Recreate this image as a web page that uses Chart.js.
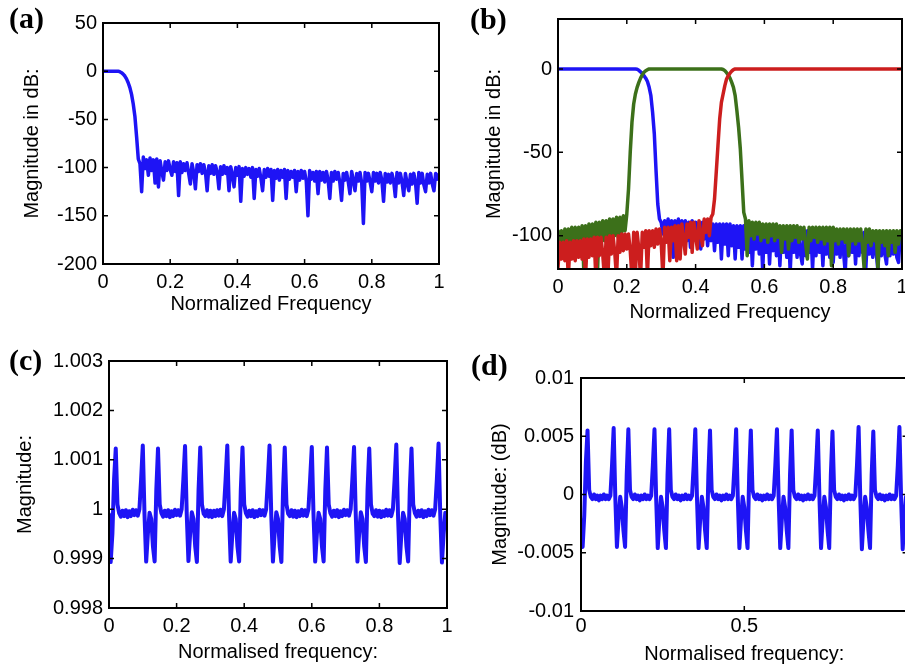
<!DOCTYPE html>
<html lang="en">
<head>
<meta charset="utf-8">
<title>Filter bank magnitude responses</title>
<script src="https://cdn.jsdelivr.net/npm/chart.js@4.4.1/dist/chart.umd.min.js"></script>
<style>
  html, body { margin: 0; padding: 0; background: #fff; overflow: hidden; }
  #page { position: relative; width: 905px; height: 666px; overflow: hidden; background: #fff; }
  #page canvas { position: absolute; }
  .tag { position: absolute; font: bold 30px/30px "Liberation Serif", "Times New Roman", serif; color: #000; white-space: nowrap; }
</style>
</head>
<body>
<div id="page">
  <canvas id="panelA" width="452" height="330" style="left:0px;top:0px"></canvas>
  <canvas id="panelB" width="460" height="330" style="left:455px;top:0px"></canvas>
  <canvas id="panelC" width="460" height="331" style="left:0px;top:335px"></canvas>
  <canvas id="panelD" width="460" height="321" style="left:470px;top:345px"></canvas>
  <div class="tag" style="left:9px;top:3px">(a)</div>
  <div class="tag" style="left:470px;top:4px">(b)</div>
  <div class="tag" style="left:9px;top:345px">(c)</div>
  <div class="tag" style="left:471px;top:350px">(d)</div>
</div>
<script>
// Normalised frequency grid shared by every response
const freq = [
  0,0.005,0.01,0.015,0.02,0.025,0.03,0.035,0.04,0.045,
  0.05,0.055,0.06,0.065,0.07,0.075,0.08,0.085,0.09,0.095,
  0.1,0.105,0.11,0.115,0.12,0.125,0.13,0.135,0.14,0.145,
  0.15,0.155,0.16,0.165,0.17,0.175,0.18,0.185,0.19,0.195,
  0.2,0.205,0.21,0.215,0.22,0.225,0.23,0.235,0.24,0.245,
  0.25,0.255,0.26,0.265,0.27,0.275,0.28,0.285,0.29,0.295,
  0.3,0.305,0.31,0.315,0.32,0.325,0.33,0.335,0.34,0.345,
  0.35,0.355,0.36,0.365,0.37,0.375,0.38,0.385,0.39,0.395,
  0.4,0.405,0.41,0.415,0.42,0.425,0.43,0.435,0.44,0.445,
  0.45,0.455,0.46,0.465,0.47,0.475,0.48,0.485,0.49,0.495,
  0.5,0.505,0.51,0.515,0.52,0.525,0.53,0.535,0.54,0.545,
  0.55,0.555,0.56,0.565,0.57,0.575,0.58,0.585,0.59,0.595,
  0.6,0.605,0.61,0.615,0.62,0.625,0.63,0.635,0.64,0.645,
  0.65,0.655,0.66,0.665,0.67,0.675,0.68,0.685,0.69,0.695,
  0.7,0.705,0.71,0.715,0.72,0.725,0.73,0.735,0.74,0.745,
  0.75,0.755,0.76,0.765,0.77,0.775,0.78,0.785,0.79,0.795,
  0.8,0.805,0.81,0.815,0.82,0.825,0.83,0.835,0.84,0.845,
  0.85,0.855,0.86,0.865,0.87,0.875,0.88,0.885,0.89,0.895,
  0.9,0.905,0.91,0.915,0.92,0.925,0.93,0.935,0.94,0.945,
  0.95,0.955,0.96,0.965,0.97,0.975,0.98,0.985,0.99,0.995,
  1
];

// (a) prototype lowpass filter, magnitude in dB
const magA = [
  0,0,0,0,0,0,0,0,0,0,
  -0.5,-1.5,-3,-5,-8,-12,-17,-24,-34,-47,
  -68,-91,-96,-125,-89,-101,-92,-108,-90,-103,
  -92,-116,-91,-120,-93,-104,-113,-94,-103,-93,
  -102,-108,-94,-104,-95,-129,-94,-105,-96,-103,
  -95,-106,-117,-96,-105,-122,-97,-104,-96,-106,
  -97,-105,-124,-98,-106,-97,-107,-98,-105,-122,
  -99,-107,-98,-106,-100,-124,-99,-107,-120,-100,
  -108,-99,-135,-101,-109,-100,-107,-101,-110,-100,
  -132,-102,-109,-101,-111,-124,-102,-110,-101,-109,
  -102,-134,-103,-111,-102,-113,-103,-110,-102,-132,
  -103,-112,-104,-110,-103,-125,-104,-113,-103,-111,
  -104,-114,-150,-103,-112,-105,-114,-104,-127,-104,
  -113,-105,-115,-104,-113,-132,-105,-114,-104,-112,
  -105,-116,-134,-106,-113,-105,-115,-127,-104,-113,
  -124,-106,-114,-105,-116,-158,-105,-114,-106,-115,
  -125,-105,-114,-106,-116,-105,-113,-135,-106,-115,
  -107,-116,-106,-114,-130,-105,-116,-106,-115,-129,
  -106,-116,-124,-107,-117,-106,-115,-137,-105,-116,
  -106,-118,-125,-107,-116,-106,-117,-124,-106,-112,
  -107
];

// (b) three-band filter bank: lowpass, bandpass, highpass (dB)
const magBLow = [
  0,0,0,0,0,0,0,0,0,0,
  0,0,0,0,0,0,0,0,0,0,
  0,0,0,0,0,0,0,0,0,0,
  0,0,0,0,0,0,0,0,0,0,
  0,0,0,0,0,0,-0.2,-0.8,-1.7,-2.6,
  -4,-5.5,-7.5,-11,-16,-26,-39,-61,-81,-90,
  -92,-99,-91,-101,-90,-104,-91,-113,-91,-102,
  -90,-110,-91,-100,-91,-103,-92,-107,-91,-101,
  -92,-104,-92,-108,-92,-102,-92,-106,-93,-103,
  -93,-109,-93,-104,-93,-114,-93,-105,-93,-112,
  -93,-106,-94,-114,-94,-107,-94,-114,-94,-108,
  -94,-110,-95,-118,-95,-108,-95,-111,-95,-121,
  -95,-110,-96,-117,-96,-109,-96,-112,-96,-118,
  -96,-110,-96,-113,-96,-122,-97,-110,-97,-113,
  -97,-111,-117,-97,-112,-97,-110,-97,-120,-97,
  -112,-97,-110,-97,-118,-97,-111,-98,-113,-98,
  -116,-98,-111,-98,-113,-98,-110,-122,-98,-112,
  -98,-110,-98,-117,-98,-112,-98,-110,-98,-119,
  -98,-111,-98,-113,-99,-110,-121,-99,-112,-99,
  -111,-117,-99,-112,-99,-111,-99,-113,-116,-99,
  -104
];
const magBBand = [
  -97,-107,-97,-106,-96,-108,-96,-105,-95,-107,
  -95,-104,-95,-106,-94,-121,-94,-104,-93,-105,
  -93,-103,-92,-121,-92,-102,-91,-103,-91,-101,
  -90,-102,-90,-100,-89,-101,-89,-99,-88,-97,
  -87,-72,-50,-32,-21,-15,-11,-8,-5.5,-3.5,
  -2,-1,-0.4,0,0,0,0,0,0,0,
  0,0,0,0,0,0,0,0,0,0,
  0,0,0,0,0,0,0,0,0,0,
  0,0,0,0,0,0,0,0,0,0,
  0,0,0,0,0,0,-0.3,-1,-2.2,-3.6,
  -5.5,-8,-11,-16,-25,-35,-48,-67,-86,-90,
  -112,-91,-100,-92,-102,-92,-99,-92,-103,-93,
  -101,-93,-104,-93,-100,-93,-103,-93,-101,-94,
  -110,-94,-102,-94,-108,-94,-103,-94,-101,-94,
  -104,-95,-102,-95,-105,-114,-95,-103,-95,-101,
  -95,-104,-95,-102,-95,-105,-95,-103,-95,-118,
  -95,-103,-96,-105,-96,-102,-96,-104,-96,-112,
  -96,-103,-96,-105,-96,-103,-96,-106,-120,-96,
  -104,-96,-106,-97,-103,-97,-120,-97,-104,-97,
  -106,-97,-112,-97,-104,-97,-110,-97,-105,-97,
  -101
];
const magBHigh = [
  -119,-104,-114,-104,-115,-103,-125,-104,-114,-103,
  -115,-103,-113,-103,-114,-102,-125,-102,-113,-102,
  -112,-101,-125,-101,-112,-101,-111,-125,-101,-124,
  -100,-111,-100,-110,-125,-100,-110,-99,-109,-99,
  -108,-99,-109,-125,-98,-123,-98,-108,-125,-98,
  -107,-97,-124,-97,-106,-97,-107,-96,-105,-96,
  -104,-125,-95,-104,-95,-115,-95,-103,-94,-115,
  -94,-114,-93,-102,-111,-93,-101,-92,-110,-92,
  -100,-108,-91,-99,-106,-90,-98,-90,-100,-89,
  -87,-78,-62,-46,-30,-20,-15,-10,-6,-4,
  -2.5,-1.3,-0.4,0,0,0,0,0,0,0,
  0,0,0,0,0,0,0,0,0,0,
  0,0,0,0,0,0,0,0,0,0,
  0,0,0,0,0,0,0,0,0,0,
  0,0,0,0,0,0,0,0,0,0,
  0,0,0,0,0,0,0,0,0,0,
  0,0,0,0,0,0,0,0,0,0,
  0,0,0,0,0,0,0,0,0,0,
  0,0,0,0,0,0,0,0,0,0,
  0,0,0,0,0,0,0,0,0,0,
  0
];

// (c) overall reconstruction magnitude (linear)
const magC = [
  0.9999,0.99893,0.9995,1.0006,1.00123,1.0001,0.99992,0.99985,0.99997,0.99986,
  0.99998,0.99984,0.99996,0.99986,0.99999,0.99988,0.99998,0.99987,1.0000,1.0006,
  1.00129,0.9999,0.99894,0.9995,0.99993,0.9998,0.99925,0.99894,1.0004,1.00123,
  1.0001,0.99992,0.99985,0.99997,0.99986,0.99998,0.99984,0.99996,0.99986,0.99999,
  0.99988,0.99998,0.99987,1.0000,1.0006,1.00128,0.9999,0.99895,0.9995,0.99994,
  0.9998,0.99925,0.99893,1.0004,1.00125,1.0001,0.99991,0.99986,0.99998,0.99985,
  0.99997,0.99984,0.99997,0.99986,0.99998,0.99987,0.99999,0.99986,1.0000,1.0006,
  1.00129,0.9999,0.99894,0.9995,0.99993,0.9998,0.99925,0.99894,1.0004,1.00125,
  1.0001,0.99992,0.99985,0.99997,0.99986,0.99998,0.99984,0.99996,0.99986,0.99999,
  0.99988,0.99998,0.99987,1.0000,1.0006,1.00129,0.9999,0.99894,0.9995,0.99994,
  0.9998,0.99925,0.99893,1.0004,1.00125,1.0001,0.99991,0.99986,0.99998,0.99985,
  0.99997,0.99984,0.99996,0.99986,0.99999,0.99987,0.99998,0.99986,1.0000,1.0006,
  1.00126,0.9999,0.99894,0.9995,0.99993,0.9998,0.99925,0.99894,1.0004,1.00125,
  1.0001,0.99992,0.99985,0.99997,0.99986,0.99998,0.99984,0.99996,0.99986,0.99999,
  0.99988,0.99998,0.99987,1.0000,1.0006,1.00126,0.9999,0.99894,0.9995,0.99994,
  0.9998,0.99925,0.99893,1.0004,1.00123,1.0001,0.99991,0.99986,0.99998,0.99985,
  0.99997,0.99984,0.99996,0.99986,0.99999,0.99987,0.99998,0.99986,1.0000,1.0006,
  1.00131,0.9999,0.99891,0.9995,0.99993,0.9998,0.99925,0.99894,1.0004,1.00123,
  1.0001,0.99992,0.99985,0.99997,0.99986,0.99998,0.99984,0.99996,0.99986,0.99999,
  0.99988,0.99998,0.99987,1.0000,1.0006,1.00133,0.9999,0.99892,0.9995,0.99993,
  0.9998
];

// (d) overall reconstruction magnitude (dB)
const magD = [
  -0.0022,-0.0045,-0.0018,0.0028,0.0055,0.0004,-0.0002,-0.0004,0.0000,-0.0004,
  -0.0001,-0.0005,-0.0001,-0.0004,0.0000,-0.0004,-0.0001,-0.0004,-0.0001,0.0025,
  0.0057,-0.0002,-0.0045,-0.0021,-0.0002,-0.0011,-0.0031,-0.0045,0.0017,0.0056,
  0.0004,-0.0002,-0.0004,0.0000,-0.0004,-0.0001,-0.0005,-0.0001,-0.0004,0.0000,
  -0.0004,-0.0001,-0.0004,-0.0001,0.0025,0.0056,-0.0002,-0.0046,-0.0021,-0.0002,
  -0.0011,-0.0031,-0.0046,0.0017,0.0056,0.0004,-0.0002,-0.0004,0.0000,-0.0004,
  -0.0001,-0.0005,-0.0001,-0.0004,0.0000,-0.0004,-0.0001,-0.0004,-0.0001,0.0025,
  0.0056,-0.0002,-0.0046,-0.0021,-0.0002,-0.0011,-0.0031,-0.0046,0.0017,0.0055,
  0.0004,-0.0002,-0.0004,0.0000,-0.0004,-0.0001,-0.0005,-0.0001,-0.0004,0.0000,
  -0.0004,-0.0001,-0.0004,-0.0001,0.0025,0.0056,-0.0002,-0.0046,-0.0021,-0.0002,
  -0.0011,-0.0031,-0.0046,0.0017,0.0055,0.0004,-0.0002,-0.0004,0.0000,-0.0004,
  -0.0001,-0.0005,-0.0001,-0.0004,0.0000,-0.0004,-0.0001,-0.0004,-0.0001,0.0025,
  0.0056,-0.0002,-0.0046,-0.0021,-0.0002,-0.0011,-0.0031,-0.0046,0.0017,0.0055,
  0.0004,-0.0002,-0.0004,0.0000,-0.0004,-0.0001,-0.0005,-0.0001,-0.0004,0.0000,
  -0.0004,-0.0001,-0.0004,-0.0001,0.0025,0.0055,-0.0002,-0.0046,-0.0021,-0.0002,
  -0.0011,-0.0031,-0.0046,0.0017,0.0054,0.0004,-0.0002,-0.0004,0.0000,-0.0004,
  -0.0001,-0.0005,-0.0001,-0.0004,0.0000,-0.0004,-0.0001,-0.0004,-0.0001,0.0025,
  0.0058,-0.0002,-0.0047,-0.0021,-0.0002,-0.0011,-0.0031,-0.0046,0.0017,0.0054,
  0.0004,-0.0002,-0.0004,0.0000,-0.0004,-0.0001,-0.0005,-0.0001,-0.0004,0.0000,
  -0.0004,-0.0001,-0.0004,-0.0001,0.0025,0.0058,-0.0002,-0.0047,-0.0021,-0.0002,
  -0.0011
];

// Tick positions and their printed labels
const xTicksTenths = [0, 0.2, 0.4, 0.6, 0.8, 1];
const xLabelsTenths = ['0', '0.2', '0.4', '0.6', '0.8', '1'];
const xTicksHalves = [0, 0.5];
const xLabelsHalves = ['0', '0.5'];
const yTicksA = [-200, -150, -100, -50, 0, 50];
const yLabelsA = ['-200', '-150', '-100', '-50', '0', '50'];
const yTicksB = [-100, -50, 0];
const yLabelsB = ['-100', '-50', '0'];
const yTicksC = [0.998, 0.999, 1, 1.001, 1.002, 1.003];
const yLabelsC = ['0.998', '0.999', '1', '1.001', '1.002', '1.003'];
const yTicksD = [-0.01, -0.005, 0, 0.005, 0.01];
const yLabelsD = ['-0.01', '-0.005', '0', '0.005', '0.01'];

const BLUE = 'rgb(30,20,245)';
const GREEN = 'rgb(60,112,26)';
const RED = 'rgb(204,30,30)';

Chart.defaults.font.family = '"Liberation Sans", Arial, Helvetica, sans-serif';
Chart.defaults.font.size = 20;
Chart.defaults.color = '#000';

// Box around the plot area with short inward tick marks on all four sides
const axesFrame = {
  id: 'axesFrame',
  afterDatasetsDraw(chart) {
    const { ctx, chartArea: a, scales: { x, y } } = chart;
    const len = 5;
    ctx.save();
    ctx.strokeStyle = '#000';
    ctx.lineWidth = 1.5;
    ctx.beginPath();
    x.ticks.forEach(t => {
      if (t.value <= x.min || t.value >= x.max) return;
      const px = x.getPixelForValue(t.value);
      ctx.moveTo(px, a.bottom); ctx.lineTo(px, a.bottom - len);
      ctx.moveTo(px, a.top); ctx.lineTo(px, a.top + len);
    });
    y.ticks.forEach(t => {
      if (t.value <= y.min || t.value >= y.max) return;
      const py = y.getPixelForValue(t.value);
      ctx.moveTo(a.left, py); ctx.lineTo(a.left + len, py);
      ctx.moveTo(a.right, py); ctx.lineTo(a.right - len, py);
    });
    ctx.stroke();
    ctx.lineWidth = 2;
    ctx.strokeRect(a.left, a.top, a.right - a.left, a.bottom - a.top);
    ctx.restore();
  }
};

function trace(mag, color, order, width) {
  return {
    data: freq.map((f, i) => ({ x: f, y: mag[i] })),
    borderColor: color,
    borderWidth: width,
    pointRadius: 0,
    tension: 0,
    borderJoinStyle: 'round',
    borderCapStyle: 'round',
    clip: 0,
    order
  };
}

function makePanel(id, p) {
  new Chart(document.getElementById(id), {
    type: 'line',
    data: { datasets: p.datasets },
    plugins: [axesFrame],
    options: {
      responsive: false,
      maintainAspectRatio: false,
      devicePixelRatio: 1,
      animation: false,
      events: [],
      layout: { padding: { left: 0, top: p.top, right: p.right, bottom: 0 } },
      plugins: { legend: { display: false }, tooltip: { enabled: false } },
      scales: {
        x: {
          type: 'linear',
          min: 0, max: 1,
          afterBuildTicks: s => { s.ticks = p.xTicks.map(v => ({ value: v })); },
          afterFit: s => { s.height = p.xAxisH; },
          ticks: { padding: p.xPad, autoSkip: false, maxRotation: 0, minRotation: 0,
                   callback: (v, i) => p.xLabels[i] },
          grid: { display: false, drawTicks: false },
          border: { display: false },
          title: { display: true, text: p.xTitle, padding: { top: 0, bottom: p.xTitlePad } }
        },
        y: {
          type: 'linear',
          min: p.yMin, max: p.yMax,
          afterBuildTicks: s => { s.ticks = p.yTicks.map(v => ({ value: v })); },
          afterFit: s => { s.width = p.yAxisW; },
          ticks: { padding: p.yPad, autoSkip: false, callback: (v, i) => p.yLabels[i] },
          grid: { display: false, drawTicks: false },
          border: { display: false },
          title: { display: true, text: p.yTitle, padding: { top: p.yTitlePad, bottom: 0 } }
        }
      }
    }
  });
}

makePanel('panelA', {
  datasets: [trace(magA, BLUE, 1, 3.5)],
  top: 23, right: 13, xAxisH: 66, yAxisW: 103, xPad: 6, yPad: 6,
  xTitlePad: 13.5, yTitlePad: 20,
  yMin: -200, yMax: 50,
  xTicks: xTicksTenths, xLabels: xLabelsTenths, yTicks: yTicksA, yLabels: yLabelsA,
  xTitle: 'Normalized Frequency', yTitle: 'Magnitude in dB:'
});

makePanel('panelB', {
  datasets: [trace(magBHigh, RED, 1, 3.5), trace(magBBand, GREEN, 2, 3.5), trace(magBLow, BLUE, 3, 3.5)],
  top: 19, right: 13, xAxisH: 61, yAxisW: 103, xPad: 6, yPad: 6,
  xTitlePad: 6, yTitlePad: 27,
  yMin: -120, yMax: 30,
  xTicks: xTicksTenths, xLabels: xLabelsTenths, yTicks: yTicksB, yLabels: yLabelsB,
  xTitle: 'Normalized Frequency', yTitle: 'Magnitude in dB:'
});

makePanel('panelC', {
  datasets: [trace(magC, BLUE, 1, 4)],
  top: 26, right: 13, xAxisH: 58, yAxisW: 109, xPad: 6, yPad: 6,
  xTitlePad: 2, yTitlePad: 13.5,
  yMin: 0.998, yMax: 1.003,
  xTicks: xTicksTenths, xLabels: xLabelsTenths, yTicks: yTicksC, yLabels: yLabelsC,
  xTitle: 'Normalised frequency:', yTitle: 'Magnitude:'
});

makePanel('panelD', {
  datasets: [trace(magD, BLUE, 1, 4)],
  top: 33, right: 22.4, xAxisH: 55, yAxisW: 111, xPad: 3, yPad: 7,
  xTitlePad: 0, yTitlePad: 18.5,
  yMin: -0.01, yMax: 0.01,
  xTicks: xTicksHalves, xLabels: xLabelsHalves, yTicks: yTicksD, yLabels: yLabelsD,
  xTitle: 'Normalised frequency:', yTitle: 'Magnitude: (dB)'
});
</script>
</body>
</html>
